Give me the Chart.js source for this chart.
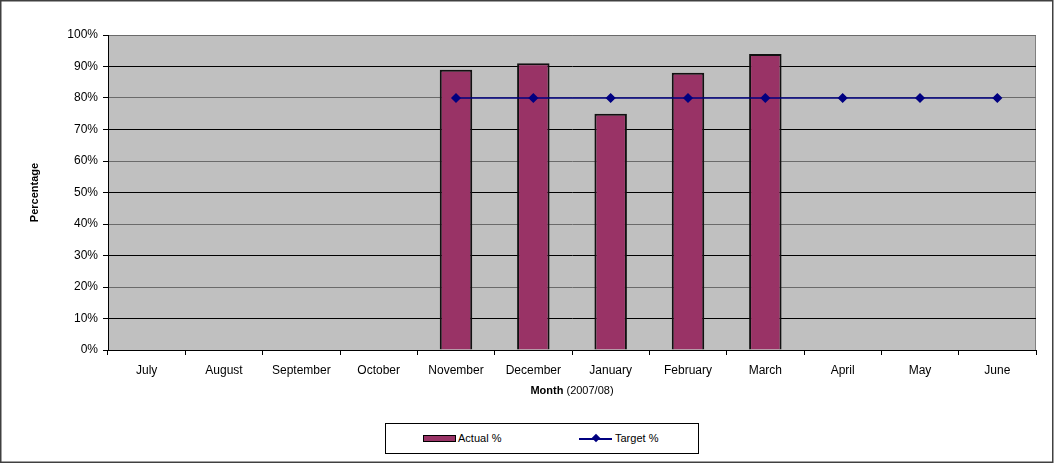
<!DOCTYPE html>
<html>
<head>
<meta charset="utf-8">
<script src="https://cdn.jsdelivr.net/npm/chart.js@4/dist/chart.umd.min.js"></script>
<style>
  html, body { margin: 0; padding: 0; background: #fff; }
  #wrap { position: relative; width: 1054px; height: 463px; }
  #legend {
    position: absolute; left: 385px; top: 423px; width: 312px; height: 29px;
    border: 1px solid #000; background: #fff;
    font-family: 'Liberation Sans', Arial, sans-serif; font-size: 11px; color: #000;
  }
  .lg-item { position: absolute; top: 8px; line-height: 13px; }
  .sw-bar { position: absolute; top: 3px; width: 31px; height: 5px; background: #993366; border: 1px solid #000; }
  .sw-line { position: absolute; top: 6px; width: 33px; height: 2px; background: #000080; }
  .sw-dot { position: absolute; top: 3px; width: 6px; height: 6px; background: #000080; transform: rotate(45deg); }
</style>
</head>
<body>
<div id="wrap">
  <canvas id="chart" width="1054" height="463"></canvas>
  <div id="legend">
    <div class="lg-item" style="left:37px;"><span class="sw-bar" style="left:0"></span><span style="position:absolute;left:35px;white-space:nowrap;">Actual %</span></div>
    <div class="lg-item" style="left:193px;"><span class="sw-line" style="left:0"></span><span class="sw-dot" style="left:14px"></span><span style="position:absolute;left:36px;white-space:nowrap;">Target %</span></div>
  </div>
</div>
<script>
// chart data
var MONTHS = ['July', 'August', 'September', 'October', 'November', 'December',
              'January', 'February', 'March', 'April', 'May', 'June'];
var ACTUAL = [null, null, null, null, 89, 91, 75, 88, 94, null, null, null];
var TARGET = [null, null, null, null, 80, 80, 80, 80, 80, 80, 80, 80];
var Y_MIN = 0, Y_MAX = 100, Y_STEP = 10;

var FONT = "'Liberation Sans', Arial, sans-serif";

// grey plot background + outer frame + mixed-weight x title
var decor = {
    id: 'decor',
    beforeDraw: function(chart) {
        var c = chart.ctx, a = chart.chartArea;
        c.save();
        c.fillStyle = '#fff';
        c.fillRect(0, 0, chart.width, chart.height);
        c.fillStyle = '#C0C0C0';
        c.fillRect(a.left, a.top, a.right - a.left, a.bottom - a.top);
        c.strokeStyle = '#808080';
        c.lineWidth = 1;
        c.strokeRect(a.left + 0.5, a.top + 0.5, a.right - a.left - 1, a.bottom - a.top);
        c.restore();
    },
    afterDraw: function(chart) {
        var c = chart.ctx, a = chart.chartArea;
        c.save();
        c.strokeStyle = '#404040';
        c.lineWidth = 1.5;
        c.strokeRect(0.75, 0.75, chart.width - 2, chart.height - 1.5);
        // x axis title
        c.fillStyle = '#000';
        c.textBaseline = 'middle';
        c.font = 'bold 11px ' + FONT;
        var t1 = 'Month', t2 = ' (2007/08)';
        var w1 = c.measureText(t1).width;
        c.font = '11px ' + FONT;
        var w2 = c.measureText(t2).width;
        var x0 = (a.left + a.right) / 2 - (w1 + w2) / 2;
        c.font = 'bold 11px ' + FONT;
        c.fillText(t1, x0, 391);
        c.font = '11px ' + FONT;
        c.fillText(t2, x0 + w1, 391);
        c.restore();
    }
};

new Chart(document.getElementById('chart'), {
    type: 'bar',
    data: {
        labels: MONTHS,
        datasets: [
            {
                type: 'line',
                label: 'Target %',
                data: TARGET,
                borderColor: '#000080',
                backgroundColor: '#000080',
                borderWidth: 1.5,
                pointStyle: 'rectRot',
                pointRadius: 4,
                pointHoverRadius: 4,
                tension: 0,
                order: 0
            },
            {
                label: 'Actual %',
                data: ACTUAL,
                backgroundColor: '#993366',
                borderColor: '#111',
                borderWidth: 2,
                barPercentage: 0.42,
                categoryPercentage: 1,
                order: 1
            }
        ]
    },
    options: {
        responsive: false,
        animation: false,
        layout: { padding: { left: 0, top: 35, right: 18, bottom: 63 } },
        plugins: { legend: { display: false }, tooltip: { enabled: false } },
        scales: {
            x: {
                offset: true,
                afterFit: function(s) { s.height = 50; },
                grid: { offset: true, drawOnChartArea: false, drawTicks: true, tickLength: 5, color: '#000' },
                border: { color: '#000', width: 1 },
                ticks: { color: '#000', padding: 8, font: { family: FONT, size: 12 }, maxRotation: 0, autoSkip: false }
            },
            y: {
                min: Y_MIN, max: Y_MAX,
                afterFit: function(s) { s.width = 108; },
                grid: {
                    color: function(ctx) { return ctx.tick && ctx.tick.value % 20 === 0 ? '#6a6a6a' : '#000'; },
                    tickColor: '#000',
                    tickLength: 5,
                    drawTicks: true
                },
                border: { color: '#000', width: 1 },
                ticks: {
                    stepSize: Y_STEP, color: '#000', padding: 5,
                    font: { family: FONT, size: 12 },
                    callback: function(v) { return v + '%'; }
                },
                title: {
                    display: true, text: 'Percentage', color: '#000',
                    font: { family: FONT, size: 11, weight: 'bold' },
                    padding: { top: 28, bottom: 0 }
                }
            }
        }
    },
    plugins: [decor]
});
</script>
</body>
</html>
